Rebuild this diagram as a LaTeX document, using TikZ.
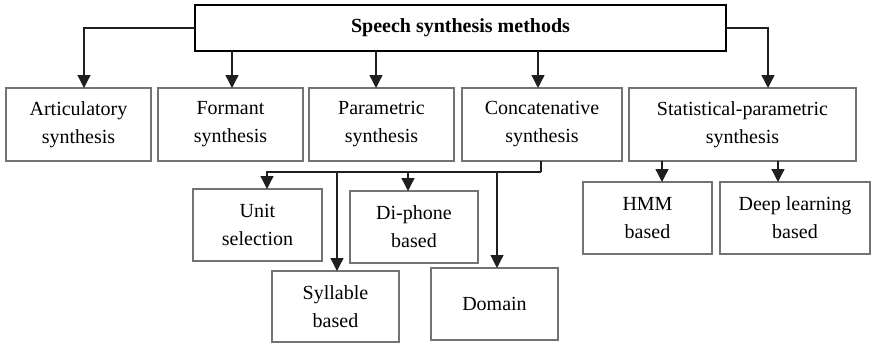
\documentclass[tikz,border=0pt]{standalone}
\usepackage{fontspec}
\setmainfont{Liberation Serif}
\usetikzlibrary{arrows.meta,calc}
\begin{document}
\begin{tikzpicture}[x=0.5pt,y=-0.5pt,
  every node/.style={inner sep=0pt,outer sep=0pt},
  box/.style={draw=black!55,line width=0.55pt,rectangle,align=center,
    font=\fontsize{10}{14}\selectfont,text=black},
  headbox/.style={draw=black,line width=1.2pt,rectangle,align=center,
    font=\fontsize{10}{14}\selectfont\bfseries},
  arr/.style={draw=black!88,line width=0.65pt,
    -{Triangle[width=6.5pt,length=6.5pt]}},
  link/.style={draw=black!88,line width=0.65pt}]
\useasboundingbox (0,0) rectangle (871,343);

% root
\node[headbox,minimum width=265.5pt,minimum height=23pt] (root) at (460.5,28) {Speech synthesis methods};

% first level
\node[box,minimum width=72.5pt,minimum height=36.5pt] (art) at (78.5,124.5) {Articulatory\\synthesis};
\node[box,minimum width=72.5pt,minimum height=36.5pt] (fmt) at (230.5,124.5) {Formant\\synthesis};
\node[box,minimum width=72.5pt,minimum height=36.5pt] (param) at (381.5,124.5) {Parametric\\synthesis};
\node[box,minimum width=80pt,minimum height=36.5pt] (concat) at (542,124.5) {Concatenative\\synthesis};
\node[box,minimum width=113.5pt,minimum height=36.5pt] (stat) at (742.5,124.5) {Statistical-parametric\\synthesis};

% concatenative sub-types
\node[box,minimum width=64.5pt,minimum height=36pt] (unit) at (257.5,225) {Unit\\selection};
\node[box,minimum width=64pt,minimum height=36pt] (diph) at (414,227) {Di-phone\\based};
\node[box,minimum width=63.5pt,minimum height=35.5pt] (syll) at (335.5,306.5) {Syllable\\based};
\node[box,minimum width=63.5pt,minimum height=36pt] (dom) at (494.5,304) {Domain};

% statistical sub-types
\node[box,minimum width=64.5pt,minimum height=36pt] (hmm) at (647.5,218) {HMM\\based};
\node[box,minimum width=75pt,minimum height=36pt] (deep) at (795,218) {Deep learning\\based};

% arrow tips
\coordinate (tart) at ($(art.north)+(5.5,0)$);
\coordinate (tfmt) at ($(fmt.north)+(1.5,0)$);
\coordinate (tparam) at ($(param.north)+(-5.5,0)$);
\coordinate (tconcat) at ($(concat.north)+(-4,0)$);
\coordinate (tstat) at ($(stat.north)+(25.5,0)$);
\coordinate (tunit) at ($(unit.north)+(9.5,0)$);
\coordinate (tdiph) at ($(diph.north)+(-6,0)$);
\coordinate (tsyll) at ($(syll.north)+(1.5,0)$);
\coordinate (tdom) at ($(dom.north)+(2.5,0)$);
\coordinate (thmm) at ($(hmm.north)+(14.5,0)$);
\coordinate (tdeep) at ($(deep.north)+(-17,0)$);
% junction below the concatenative box
\coordinate (j) at (541,172);

% root to first level
\draw[arr] (root.west) -| (tart);
\draw[arr] (root.south -| tfmt) -- (tfmt);
\draw[arr] (root.south -| tparam) -- (tparam);
\draw[arr] (root.south -| tconcat) -- (tconcat);
\draw[arr] (root.east) -| (tstat);

% concatenative branches
\draw[link] (concat.south -| j) -- (j);
\draw[arr] (j) -| (tunit);
\draw[arr] (j -| tdiph) -- (tdiph);
\draw[arr] (j -| tsyll) -- (tsyll);
\draw[arr] (j -| tdom) -- (tdom);

% statistical branches
\draw[arr] (stat.south -| thmm) -- (thmm);
\draw[arr] (stat.south -| tdeep) -- (tdeep);
\end{tikzpicture}
\end{document}
